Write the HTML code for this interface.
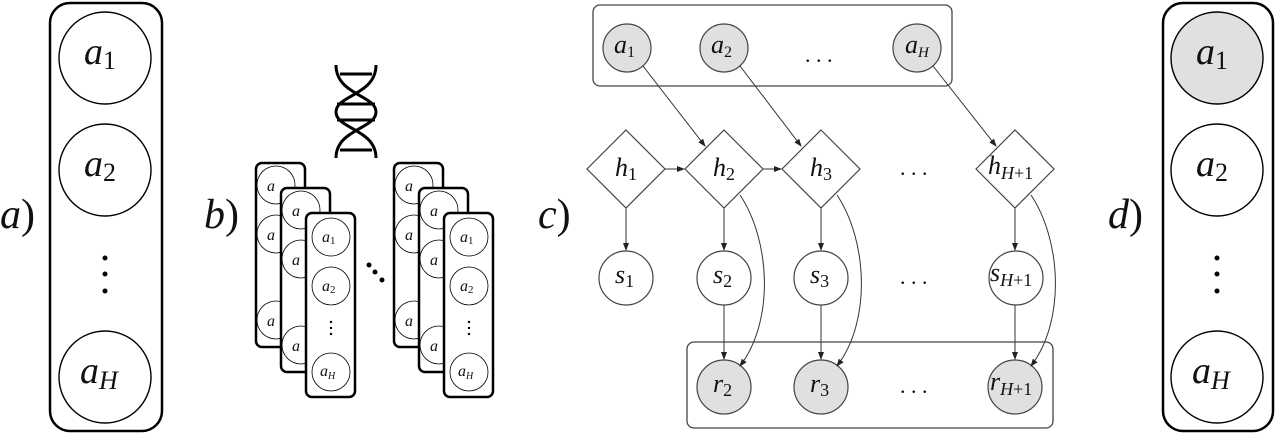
<!DOCTYPE html>
<html><head><meta charset="utf-8"><style>
html,body{margin:0;padding:0;background:#fff;}
svg{display:block;}
text{font-family:"Liberation Serif",serif;font-style:italic;fill:#111;}
.sub{font-style:normal;}
</style></head><body>
<svg width="1276" height="435" viewBox="0 0 1276 435" xmlns="http://www.w3.org/2000/svg">
<defs><marker id="ar" markerWidth="8" markerHeight="8" refX="7" refY="4" orient="auto" markerUnits="userSpaceOnUse"><path d="M0,1 L8,4 L0,7 Z" fill="#222"/></marker></defs>

<!-- a -->
<text x="0" y="228" font-size="42">a<tspan class="sub">)</tspan></text>
<rect x="50" y="3" width="112" height="428" rx="20" fill="none" stroke="#000" stroke-width="2.5"/>
<g fill="none" stroke="#000" stroke-width="1.4">
<circle cx="105" cy="58" r="46"/><circle cx="105" cy="170" r="46"/><circle cx="105" cy="377" r="46"/></g>
<g font-size="38"><text x="84" y="64">a<tspan class="sub" font-size="26" dy="5">1</tspan></text>
<text x="84" y="176">a<tspan class="sub" font-size="26" dy="5">2</tspan></text>
<text x="80" y="383">a<tspan font-size="26" dy="6">H</tspan></text></g>
<g fill="#000"><circle cx="105" cy="258" r="2.5"/><circle cx="105" cy="274" r="2.5"/><circle cx="105" cy="291" r="2.5"/></g>

<!-- d -->
<text x="1108" y="228" font-size="42">d<tspan class="sub">)</tspan></text>
<rect x="1163" y="3" width="110" height="428" rx="20" fill="none" stroke="#000" stroke-width="2.5"/>
<g stroke="#000" stroke-width="1.4">
<circle cx="1217" cy="58" r="46" fill="#e0e0e0"/><circle cx="1217" cy="170" r="46" fill="none"/><circle cx="1217" cy="377" r="46" fill="none"/></g>
<g font-size="38"><text x="1196" y="64">a<tspan class="sub" font-size="26" dy="5">1</tspan></text>
<text x="1196" y="176">a<tspan class="sub" font-size="26" dy="5">2</tspan></text>
<text x="1192" y="383">a<tspan font-size="26" dy="6">H</tspan></text></g>
<g fill="#000"><circle cx="1217" cy="258" r="2.5"/><circle cx="1217" cy="274" r="2.5"/><circle cx="1217" cy="291" r="2.5"/></g>

<!-- b -->
<text x="204" y="228" font-size="42">b<tspan class="sub">)</tspan></text>
<g fill="none" stroke="#000" stroke-width="3">
<path d="M336,65 C336,95 376,95 376,112 C376,129 336,129 336,158"/>
<path d="M376,65 C376,95 336,95 336,112 C336,129 376,129 376,158"/>
<line x1="340" y1="74" x2="372" y2="74"/><line x1="337" y1="104" x2="375" y2="104"/>
<line x1="337" y1="120" x2="375" y2="120"/><line x1="340" y1="150" x2="372" y2="150"/>
</g>
<g id="stk">
<g stroke="#000">
<rect x="256" y="163" width="49" height="184" rx="6" fill="#fff" stroke-width="2.5"/>
<circle cx="276" cy="185" r="19" fill="none" stroke-width="0.8"/><circle cx="276" cy="234" r="19" fill="none" stroke-width="0.8"/><circle cx="276" cy="320" r="19" fill="none" stroke-width="0.8"/>
<rect x="281" y="188" width="49" height="184" rx="6" fill="#fff" stroke-width="2.5"/>
<circle cx="301" cy="210" r="19" fill="none" stroke-width="0.8"/><circle cx="301" cy="259" r="19" fill="none" stroke-width="0.8"/><circle cx="301" cy="345" r="19" fill="none" stroke-width="0.8"/>
<rect x="306" y="213" width="49" height="184" rx="6" fill="#fff" stroke-width="2.5"/>
<circle cx="331" cy="237" r="19" fill="none" stroke-width="0.8"/><circle cx="331" cy="286" r="19" fill="none" stroke-width="0.8"/><circle cx="331" cy="372" r="19" fill="none" stroke-width="0.8"/>
</g>
<g font-size="16"><text x="322" y="242">a<tspan class="sub" font-size="11" dy="2">1</tspan></text>
<text x="322" y="291">a<tspan class="sub" font-size="11" dy="2">2</tspan></text>
<text x="320" y="376">a<tspan font-size="10" dy="3">H</tspan></text>
<text x="267" y="191">a</text><text x="267" y="240">a</text><text x="267" y="326">a</text>
<text x="292" y="216">a</text><text x="292" y="265">a</text><text x="292" y="351">a</text></g>
<g fill="#000"><circle cx="331" cy="322" r="1.2"/><circle cx="331" cy="328" r="1.2"/><circle cx="331" cy="334" r="1.2"/></g>
</g>
<use href="#stk" x="138"/>
<g fill="#000"><circle cx="369" cy="265" r="2.5"/><circle cx="375" cy="272" r="2.5"/><circle cx="382" cy="280" r="2.5"/></g>

<!-- c -->
<text x="538" y="228" font-size="42">c<tspan class="sub">)</tspan></text>
<g fill="none" stroke="#444" stroke-width="1.3">
<rect x="593" y="5" width="359" height="81" rx="7"/>
<rect x="687" y="342" width="366" height="86" rx="7"/>
</g>
<g stroke="#444" stroke-width="1.2" fill="#e0e0e0">
<circle cx="627" cy="48" r="24"/><circle cx="724" cy="48" r="24"/><circle cx="917" cy="48" r="24"/>
<circle cx="724" cy="387" r="27"/><circle cx="821" cy="387" r="27"/><circle cx="1015" cy="387" r="27"/>
</g>
<g stroke="#444" stroke-width="1.2" fill="#fff">
<circle cx="626" cy="278" r="27"/><circle cx="724" cy="278" r="27"/><circle cx="821" cy="278" r="27"/><circle cx="1016" cy="278" r="27"/>
<path d="M626,130 L665,169 L626,208 L587,169 Z"/>
<path d="M724,130 L763,169 L724,208 L685,169 Z"/>
<path d="M821,130 L860,169 L821,208 L782,169 Z"/>
<path d="M1015,130 L1054,169 L1015,208 L976,169 Z"/>
</g>
<g stroke="#333" stroke-width="1" fill="none" marker-end="url(#ar)">
<line x1="643" y1="66" x2="705" y2="146"/>
<line x1="740" y1="66" x2="801" y2="146"/>
<line x1="933" y1="66" x2="996" y2="146"/>
<line x1="665" y1="169" x2="684" y2="169"/>
<line x1="763" y1="169" x2="781" y2="169"/>
<line x1="626" y1="208" x2="626" y2="250"/>
<line x1="724" y1="208" x2="724" y2="250"/>
<line x1="821" y1="208" x2="821" y2="250"/>
<line x1="1015" y1="208" x2="1015" y2="250"/>
<line x1="724" y1="305" x2="724" y2="359"/>
<line x1="821" y1="305" x2="821" y2="359"/>
<line x1="1015" y1="305" x2="1015" y2="359"/>
<path d="M740,195 C770,240 775,320 740,366"/>
<path d="M837,195 C867,240 872,320 837,366"/>
<path d="M1031,195 C1061,240 1066,320 1031,366"/>
</g>
<g font-size="26">
<text x="614" y="53">a<tspan class="sub" font-size="16" dy="4">1</tspan></text>
<text x="711" y="53">a<tspan class="sub" font-size="16" dy="4">2</tspan></text>
<text x="905" y="53">a<tspan font-size="15" dy="4">H</tspan></text>
<text x="615" y="176">h<tspan class="sub" font-size="18" dy="4">1</tspan></text>
<text x="713" y="176">h<tspan class="sub" font-size="18" dy="4">2</tspan></text>
<text x="810" y="176">h<tspan class="sub" font-size="18" dy="4">3</tspan></text>
<text x="988" y="174">h<tspan font-size="18" dy="5">H<tspan class="sub">+1</tspan></tspan></text>
<text x="615" y="283">s<tspan class="sub" font-size="18" dy="4">1</tspan></text>
<text x="713" y="283">s<tspan class="sub" font-size="18" dy="4">2</tspan></text>
<text x="810" y="283">s<tspan class="sub" font-size="18" dy="4">3</tspan></text>
<text x="990" y="281">s<tspan font-size="18" dy="5">H<tspan class="sub">+1</tspan></tspan></text>
<text x="713" y="392">r<tspan class="sub" font-size="18" dy="4">2</tspan></text>
<text x="810" y="392">r<tspan class="sub" font-size="18" dy="4">3</tspan></text>
<text x="990" y="390">r<tspan font-size="18" dy="5">H<tspan class="sub">+1</tspan></tspan></text>
</g>
<g font-size="22">
<text x="805" y="62" style="font-style:normal">. . .</text>
<text x="900" y="175" style="font-style:normal">. . .</text>
<text x="900" y="284" style="font-style:normal">. . .</text>
<text x="900" y="393" style="font-style:normal">. . .</text>
</g>
</svg>
</body></html>
